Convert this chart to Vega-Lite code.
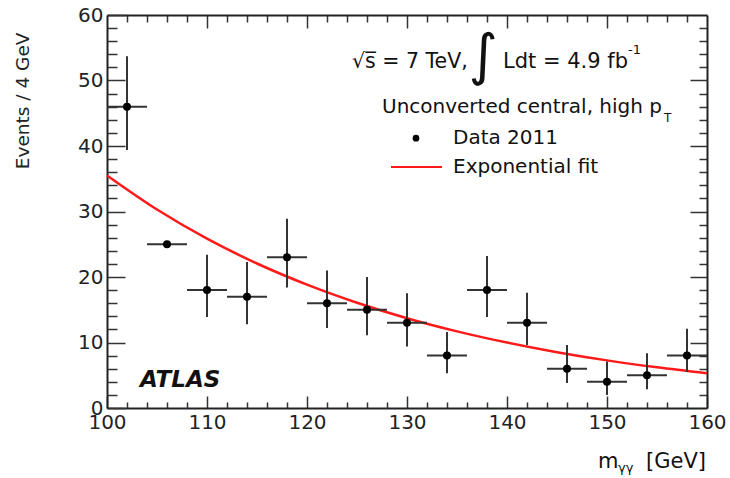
{
  "$schema": "https://vega.github.io/schema/vega-lite/v6.json",
  "width": 600,
  "height": 393,
  "autosize": {"type": "none"},
  "padding": {"left": 107, "top": 15, "right": 23, "bottom": 70},
  "background": "white",
  "config": {
    "view": {"stroke": null},
    "font": "DejaVu Sans",
    "axis": {
      "grid": false,
      "tickColor": "#333333",
      "tickWidth": 1.5,
      "domainColor": "#222222",
      "domainWidth": 2,
      "labelFont": "DejaVu Sans",
      "labelFontSize": 20,
      "labelColor": "#222222",
      "labelFlush": false,
      "labelOverlap": false,
      "titleFont": "DejaVu Sans",
      "titleFontWeight": "normal",
      "titleFontSize": 18.5,
      "titleColor": "#222222"
    },
    "text": {"font": "DejaVu Sans", "color": "#111111", "align": "left", "baseline": "middle"}
  },
  "datasets": {
    "data2011": [
      {"m": 102, "xlo": 100, "xhi": 104, "n": 46, "lo": 39.4, "hi": 53.7},
      {"m": 106, "xlo": 104, "xhi": 108, "n": 25, "lo": null, "hi": null},
      {"m": 110, "xlo": 108, "xhi": 112, "n": 18, "lo": 13.9, "hi": 23.4},
      {"m": 114, "xlo": 112, "xhi": 116, "n": 17, "lo": 12.8, "hi": 22.3},
      {"m": 118, "xlo": 116, "xhi": 120, "n": 23, "lo": 18.4, "hi": 28.9},
      {"m": 122, "xlo": 120, "xhi": 124, "n": 16, "lo": 12.2, "hi": 21.0},
      {"m": 126, "xlo": 124, "xhi": 128, "n": 15, "lo": 11.1, "hi": 20.0},
      {"m": 130, "xlo": 128, "xhi": 132, "n": 13, "lo": 9.4, "hi": 17.5},
      {"m": 134, "xlo": 132, "xhi": 136, "n": 8, "lo": 5.3, "hi": 11.6},
      {"m": 138, "xlo": 136, "xhi": 140, "n": 18, "lo": 13.9, "hi": 23.2},
      {"m": 142, "xlo": 140, "xhi": 144, "n": 13, "lo": 9.6, "hi": 17.6},
      {"m": 146, "xlo": 144, "xhi": 148, "n": 6, "lo": 3.8, "hi": 9.6},
      {"m": 150, "xlo": 148, "xhi": 152, "n": 4, "lo": 2.0, "hi": 7.1},
      {"m": 154, "xlo": 152, "xhi": 156, "n": 5, "lo": 2.85, "hi": 8.35},
      {"m": 158, "xlo": 156, "xhi": 160, "n": 8, "lo": 5.5, "hi": 12.1}
    ],
    "fit": [
      {"m": 100, "n": 35.5},
      {"m": 105, "n": 30.3},
      {"m": 110, "n": 25.85},
      {"m": 115, "n": 22.06},
      {"m": 120, "n": 18.83},
      {"m": 125, "n": 16.07},
      {"m": 130, "n": 13.71},
      {"m": 135, "n": 11.7},
      {"m": 140, "n": 9.99},
      {"m": 145, "n": 8.52},
      {"m": 150, "n": 7.27},
      {"m": 155, "n": 6.21},
      {"m": 160, "n": 5.3}
    ]
  },
  "resolve": {"axis": {"x": "independent", "y": "independent"}},
  "layer": [
    {
      "data": {"name": "fit"},
      "mark": {"type": "line", "color": "#ff1a1a", "strokeWidth": 2.5, "interpolate": "monotone"},
      "encoding": {
        "x": {
          "field": "m", "type": "quantitative",
          "scale": {"domain": [100, 160], "nice": false, "zero": false},
          "axis": {"orient": "bottom", "values": [100, 110, 120, 130, 140, 150, 160], "tickSize": -12, "labelPadding": 16, "title": null}
        },
        "y": {
          "field": "n", "type": "quantitative",
          "scale": {"domain": [0, 60], "nice": false, "zero": false},
          "axis": {
            "orient": "left", "values": [0, 10, 20, 30, 40, 50, 60], "tickSize": -18, "labelPadding": 22,
            "title": "Events / 4 GeV", "titleX": -85, "titleY": 17, "titleAngle": 270,
            "titleAlign": "right", "titleBaseline": "middle"
          }
        }
      }
    },
    {
      "data": {"name": "data2011"},
      "mark": {"type": "rule", "color": "#333333", "strokeWidth": 2},
      "encoding": {
        "x": {
          "field": "xlo", "type": "quantitative",
          "scale": {"domain": [100, 160], "nice": false, "zero": false},
          "axis": {"orient": "top", "values": [102, 104, 106, 108, 112, 114, 116, 118, 122, 124, 126, 128, 132, 134, 136, 138, 142, 144, 146, 148, 152, 154, 156, 158], "tickSize": -7, "labels": false, "domain": true, "title": null}
        },
        "x2": {"field": "xhi"},
        "y": {
          "field": "n", "type": "quantitative",
          "scale": {"domain": [0, 60], "nice": false, "zero": false},
          "axis": {"orient": "right", "values": [2, 4, 6, 8, 12, 14, 16, 18, 22, 24, 26, 28, 32, 34, 36, 38, 42, 44, 46, 48, 52, 54, 56, 58], "tickSize": -8, "labels": false, "domain": true, "title": null}
        }
      }
    },
    {
      "data": {"name": "data2011"},
      "transform": [{"filter": "isValid(datum.lo) && isValid(datum.hi)"}],
      "mark": {"type": "rule", "color": "#333333", "strokeWidth": 2},
      "encoding": {
        "x": {
          "field": "m", "type": "quantitative",
          "scale": {"domain": [100, 160], "nice": false, "zero": false},
          "axis": {"orient": "bottom", "values": [102, 104, 106, 108, 112, 114, 116, 118, 122, 124, 126, 128, 132, 134, 136, 138, 142, 144, 146, 148, 152, 154, 156, 158], "tickSize": -6, "labels": false, "domain": false, "title": null}
        },
        "y": {
          "field": "lo", "type": "quantitative",
          "scale": {"domain": [0, 60], "nice": false, "zero": false},
          "axis": {"orient": "left", "values": [2, 4, 6, 8, 12, 14, 16, 18, 22, 24, 26, 28, 32, 34, 36, 38, 42, 44, 46, 48, 52, 54, 56, 58], "tickSize": -10, "labels": false, "domain": false, "title": null}
        },
        "y2": {"field": "hi"}
      }
    },
    {
      "data": {"name": "data2011"},
      "mark": {"type": "point", "shape": "circle", "filled": true, "color": "#000000", "size": 64, "opacity": 1},
      "encoding": {
        "x": {
          "field": "m", "type": "quantitative",
          "scale": {"domain": [100, 160], "nice": false, "zero": false},
          "axis": {"orient": "top", "values": [110, 120, 130, 140, 150], "tickSize": -13, "labels": false, "domain": false, "title": null}
        },
        "y": {
          "field": "n", "type": "quantitative",
          "scale": {"domain": [0, 60], "nice": false, "zero": false},
          "axis": {"orient": "right", "values": [10, 20, 30, 40, 50], "tickSize": -17, "labels": false, "domain": false, "title": null}
        }
      }
    },
    {
      "data": {"values": [{}]},
      "mark": {"type": "text", "text": "√s̅ = 7 TeV,", "fontSize": 20.5},
      "encoding": {
        "x": {"datum": 124.5, "type": "quantitative", "scale": {"domain": [100, 160], "nice": false, "zero": false}, "axis": null},
        "y": {"datum": 52.8, "type": "quantitative", "scale": {"domain": [0, 60], "nice": false, "zero": false}, "axis": null}
      }
    },
    {
      "data": {"values": [{}]},
      "mark": {"type": "text", "text": "∫", "fontSize": 56, "align": "center"},
      "encoding": {
        "x": {"datum": 137.6, "type": "quantitative", "scale": {"domain": [100, 160], "nice": false, "zero": false}, "axis": null},
        "y": {"datum": 53.6, "type": "quantitative", "scale": {"domain": [0, 60], "nice": false, "zero": false}, "axis": null}
      }
    },
    {
      "data": {"values": [{}]},
      "mark": {"type": "text", "text": "Ldt = 4.9 fb", "fontSize": 21},
      "encoding": {
        "x": {"datum": 139.6, "type": "quantitative", "scale": {"domain": [100, 160], "nice": false, "zero": false}, "axis": null},
        "y": {"datum": 52.8, "type": "quantitative", "scale": {"domain": [0, 60], "nice": false, "zero": false}, "axis": null}
      }
    },
    {
      "data": {"values": [{}]},
      "mark": {"type": "text", "text": "-1", "fontSize": 13},
      "encoding": {
        "x": {"datum": 152.1, "type": "quantitative", "scale": {"domain": [100, 160], "nice": false, "zero": false}, "axis": null},
        "y": {"datum": 54.7, "type": "quantitative", "scale": {"domain": [0, 60], "nice": false, "zero": false}, "axis": null}
      }
    },
    {
      "data": {"values": [{}]},
      "mark": {"type": "text", "text": "Unconverted central, high p", "fontSize": 20},
      "encoding": {
        "x": {"datum": 127.5, "type": "quantitative", "scale": {"domain": [100, 160], "nice": false, "zero": false}, "axis": null},
        "y": {"datum": 46.0, "type": "quantitative", "scale": {"domain": [0, 60], "nice": false, "zero": false}, "axis": null}
      }
    },
    {
      "data": {"values": [{}]},
      "mark": {"type": "text", "text": "T", "fontSize": 12},
      "encoding": {
        "x": {"datum": 155.7, "type": "quantitative", "scale": {"domain": [100, 160], "nice": false, "zero": false}, "axis": null},
        "y": {"datum": 44.2, "type": "quantitative", "scale": {"domain": [0, 60], "nice": false, "zero": false}, "axis": null}
      }
    },
    {
      "data": {"values": [{}]},
      "mark": {"type": "point", "shape": "circle", "filled": true, "color": "#000000", "size": 45, "opacity": 1},
      "encoding": {
        "x": {"datum": 130.9, "type": "quantitative", "scale": {"domain": [100, 160], "nice": false, "zero": false}, "axis": null},
        "y": {"datum": 41.2, "type": "quantitative", "scale": {"domain": [0, 60], "nice": false, "zero": false}, "axis": null}
      }
    },
    {
      "data": {"values": [{}]},
      "mark": {"type": "text", "text": "Data 2011", "fontSize": 20},
      "encoding": {
        "x": {"datum": 134.6, "type": "quantitative", "scale": {"domain": [100, 160], "nice": false, "zero": false}, "axis": null},
        "y": {"datum": 41.2, "type": "quantitative", "scale": {"domain": [0, 60], "nice": false, "zero": false}, "axis": null}
      }
    },
    {
      "data": {"values": [{}]},
      "mark": {"type": "rule", "color": "#ff1a1a", "strokeWidth": 2},
      "encoding": {
        "x": {"datum": 128.4, "type": "quantitative", "scale": {"domain": [100, 160], "nice": false, "zero": false}, "axis": null},
        "x2": {"datum": 133.5},
        "y": {"datum": 36.8, "type": "quantitative", "scale": {"domain": [0, 60], "nice": false, "zero": false}, "axis": null}
      }
    },
    {
      "data": {"values": [{}]},
      "mark": {"type": "text", "text": "Exponential fit", "fontSize": 20},
      "encoding": {
        "x": {"datum": 134.6, "type": "quantitative", "scale": {"domain": [100, 160], "nice": false, "zero": false}, "axis": null},
        "y": {"datum": 36.8, "type": "quantitative", "scale": {"domain": [0, 60], "nice": false, "zero": false}, "axis": null}
      }
    },
    {
      "data": {"values": [{}]},
      "mark": {"type": "text", "text": "ATLAS", "fontSize": 23, "fontWeight": "bold", "fontStyle": "italic"},
      "encoding": {
        "x": {"datum": 103.3, "type": "quantitative", "scale": {"domain": [100, 160], "nice": false, "zero": false}, "axis": null},
        "y": {"datum": 4.3, "type": "quantitative", "scale": {"domain": [0, 60], "nice": false, "zero": false}, "axis": null}
      }
    },
    {
      "data": {"values": [{}]},
      "mark": {"type": "text", "text": "m", "fontSize": 21},
      "encoding": {
        "x": {"datum": 149.1, "type": "quantitative", "scale": {"domain": [100, 160], "nice": false, "zero": false}, "axis": null},
        "y": {"datum": -8.2, "type": "quantitative", "scale": {"domain": [0, 60], "nice": false, "zero": false}, "axis": null}
      }
    },
    {
      "data": {"values": [{}]},
      "mark": {"type": "text", "text": "γγ", "fontSize": 13},
      "encoding": {
        "x": {"datum": 151.1, "type": "quantitative", "scale": {"domain": [100, 160], "nice": false, "zero": false}, "axis": null},
        "y": {"datum": -9.2, "type": "quantitative", "scale": {"domain": [0, 60], "nice": false, "zero": false}, "axis": null}
      }
    },
    {
      "data": {"values": [{}]},
      "mark": {"type": "text", "text": "[GeV]", "fontSize": 21},
      "encoding": {
        "x": {"datum": 153.9, "type": "quantitative", "scale": {"domain": [100, 160], "nice": false, "zero": false}, "axis": null},
        "y": {"datum": -8.2, "type": "quantitative", "scale": {"domain": [0, 60], "nice": false, "zero": false}, "axis": null}
      }
    }
  ]
}
